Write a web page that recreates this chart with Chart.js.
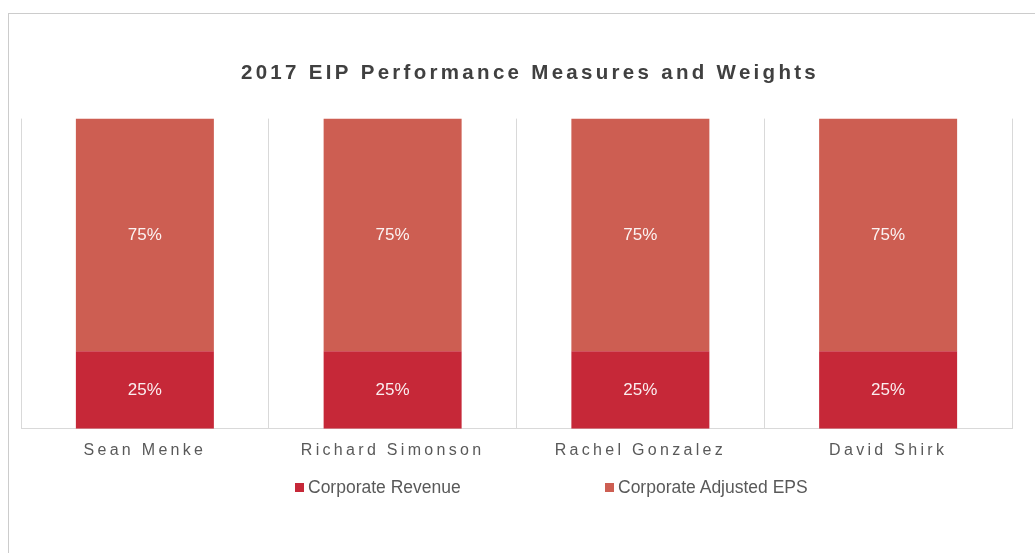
<!DOCTYPE html>
<html>
<head>
<meta charset="utf-8">
<script src="https://cdn.jsdelivr.net/npm/chart.js@4"></script>
<style>
  html, body { margin: 0; padding: 0; background: #fff; }
  #wrap { position: relative; width: 1035px; height: 553px; overflow: hidden; }
  #frame { position: absolute; left: 8px; top: 13px; width: 1100px; height: 600px; border: 1px solid #cccccc; }
  #chart { position: absolute; left: 0; top: 0; }
  .leg { position: absolute; top: 477px; font: 17.5px "Liberation Sans", Arial, sans-serif; color: #595959; white-space: nowrap; }
  .leg i { display: inline-block; width: 9px; height: 9px; margin-right: 4px; vertical-align: 1px; }
</style>
</head>
<body>
<div id="wrap">
  <div id="frame"></div>
  <canvas id="chart" width="1035" height="553"></canvas>
  <div id="legend"></div>
</div>
<script>
const names = ['Sean Menke', 'Richard Simonson', 'Rachel Gonzalez', 'David Shirk'];
const revenue = [25, 25, 25, 25];
const adjustedEps = [75, 75, 75, 75];
const seriesNames = ['Corporate Revenue', 'Corporate Adjusted EPS'];
const colors = ['#c62838', '#cd5e52'];

// legend (spread out like the original, so done in html)
const legendEl = document.getElementById('legend');
const legendX = [295, 605];
seriesNames.forEach((name, i) => {
  const d = document.createElement('div');
  d.className = 'leg';
  d.style.left = legendX[i] + 'px';
  d.innerHTML = '<i style="background:' + colors[i] + '"></i>' + name;
  legendEl.appendChild(d);
});

const spacing = {
  id: 'spacing',
  beforeDraw(chart) { chart.ctx.letterSpacing = '3.3px'; }
};

const valueLabels = {
  id: 'valueLabels',
  afterDatasetsDraw(chart) {
    const ctx = chart.ctx;
    ctx.save();
    ctx.letterSpacing = '0px';
    ctx.font = '17px "Liberation Sans", Arial, sans-serif';
    ctx.fillStyle = 'rgba(255,255,255,0.92)';
    ctx.textAlign = 'center';
    ctx.textBaseline = 'middle';
    chart.data.datasets.forEach((ds, i) => {
      chart.getDatasetMeta(i).data.forEach((bar, j) => {
        const p = bar.getCenterPoint();
        ctx.fillText(ds.data[j] + '%', p.x, p.y);
      });
    });
    ctx.restore();
  }
};

new Chart(document.getElementById('chart'), {
  type: 'bar',
  data: {
    labels: names,
    datasets: [
      { label: seriesNames[0], data: revenue, backgroundColor: colors[0] },
      { label: seriesNames[1], data: adjustedEps, backgroundColor: colors[1] }
    ]
  },
  options: {
    responsive: false,
    animation: false,
    layout: { padding: { left: 21, right: 23, top: 0, bottom: 81 } },
    barPercentage: 1,
    categoryPercentage: 0.557,
    plugins: {
      legend: { display: false },
      tooltip: { enabled: false },
      title: {
        display: true,
        // leading spaces nudge the centred title a little right, as in the original
        text: '\u00a0\u00a0\u00a02017 EIP Performance Measures and Weights',
        color: '#404040',
        font: { family: '"Liberation Sans", Arial, sans-serif', size: 20.5, weight: 'bold' },
        padding: { top: 61, bottom: 33 }
      }
    },
    scales: {
      x: {
        stacked: true,
        offset: true,
        grid: { offset: true, color: '#d9d9d9', drawTicks: false },
        border: { color: '#d9d9d9' },
        ticks: {
          color: '#595959',
          padding: 12,
          font: { family: '"Liberation Sans", Arial, sans-serif', size: 16 }
        }
      },
      y: {
        stacked: true,
        display: false,
        min: 0,
        max: 100
      }
    }
  },
  plugins: [spacing, valueLabels]
});
</script>
</body>
</html>
